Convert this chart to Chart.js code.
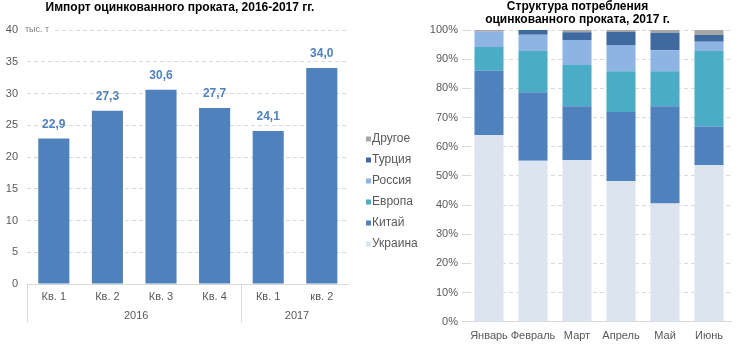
<!DOCTYPE html>
<html>
<head>
<meta charset="utf-8">
<script src="https://cdn.jsdelivr.net/npm/chart.js@4/dist/chart.umd.min.js"></script>
<style>
  body { margin: 0; background: #fff; }
  #wrapLeft { position: absolute; left: 0; top: 0; width: 350px; height: 345px; }
  #wrapRight { position: absolute; left: 350px; top: 0; width: 386px; height: 345px; }
</style>
</head>
<body>
<div id="wrapLeft"><canvas id="importChart" width="350" height="345"></canvas></div>
<div id="wrapRight"><canvas id="structChart" width="386" height="345"></canvas></div>
<script>
// Импорт оцинкованного проката, тыс. т
const quarters = ["Кв. 1", "Кв. 2", "Кв. 3", "Кв. 4", "Кв. 1", "кв. 2"];
const years = ["2016", "2017"];
const yearSizes = [4, 2];
const importValues = [22.9, 27.3, 30.6, 27.7, 24.1, 34.0];

// Структура потребления, %
const months = ["Январь", "Февраль", "Март", "Апрель", "Май", "Июнь"];
const ukraine = [64.0, 55.2, 55.4, 48.2, 40.5, 53.7];
const china   = [22.0, 23.5, 18.5, 23.7, 33.4, 13.2];
const europe  = [8.2, 14.1, 14.1, 14.0, 12.0, 25.9];
const russia  = [5.2, 5.6, 8.6, 9.0, 7.2, 3.2];
const turkey  = [0.0, 1.6, 2.6, 4.4, 6.0, 2.3];
const other   = [0.6, 0.0, 0.8, 0.7, 0.9, 1.7];

const FONT = "'Liberation Sans', Arial, sans-serif";
const TICK = "#595959";
const GRID = "#d9d9d9";

Chart.defaults.font.family = FONT;
Chart.defaults.animation = false;

// подписи и заголовок для левой диаграммы
const importDecor = {
    id: "importDecor",
    afterDraw(chart) {
        const ctx = chart.ctx;
        const area = chart.chartArea;
        const x = chart.scales.x;
        const y = chart.scales.y;
        ctx.save();

        // заголовок
        ctx.fillStyle = "#000";
        ctx.font = "bold 12px " + FONT;
        ctx.textAlign = "center";
        ctx.textBaseline = "middle";
        ctx.fillText("Импорт оцинкованного проката, 2016-2017 гг.", 180, 8);

        // единицы
        const yTop = y.getPixelForValue(40);
        ctx.font = "9px " + FONT;
        ctx.fillStyle = "#fff";
        ctx.fillRect(area.left - 3, yTop - 5, 30, 10);
        ctx.fillStyle = "#7f7f7f";
        ctx.textAlign = "left";
        ctx.fillText("тыс. т", area.left - 2, yTop);

        // значения над столбцами
        const meta = chart.getDatasetMeta(0);
        ctx.fillStyle = "#4f81bd";
        ctx.font = "bold 12px " + FONT;
        ctx.textAlign = "center";
        meta.data.forEach((bar, i) => {
            const txt = importValues[i].toFixed(1).replace(".", ",");
            ctx.fillText(txt, bar.x, bar.y - 14);
        });

        // группы по годам
        ctx.strokeStyle = GRID;
        ctx.lineWidth = 1;
        let start = 0;
        let left = area.left;
        const lineBottom = 322;
        ctx.beginPath();
        ctx.moveTo(Math.round(left) + 0.5, area.bottom);
        ctx.lineTo(Math.round(left) + 0.5, lineBottom);
        ctx.stroke();
        ctx.font = "11px " + FONT;
        ctx.fillStyle = TICK;
        years.forEach((yr, g) => {
            const end = start + yearSizes[g] - 1;
            let right;
            if (end + 1 < quarters.length) {
                right = (x.getPixelForValue(end) + x.getPixelForValue(end + 1)) / 2;
                ctx.beginPath();
                ctx.moveTo(Math.round(right) + 0.5, area.bottom);
                ctx.lineTo(Math.round(right) + 0.5, lineBottom);
                ctx.stroke();
            } else {
                right = area.right;
            }
            ctx.fillText(yr, (left + right) / 2 + 2, 316);
            left = right;
            start = end + 1;
        });
        ctx.restore();
    }
};

new Chart(document.getElementById("importChart"), {
    type: "bar",
    data: {
        labels: quarters,
        datasets: [{
            data: importValues,
            backgroundColor: "#4f81bd",
            categoryPercentage: 1,
            barPercentage: 0.58
        }]
    },
    options: {
        responsive: false,
        layout: { padding: { left: 0, right: 1.4, top: 30, bottom: 0 } },
        plugins: { legend: { display: false }, tooltip: { enabled: false } },
        scales: {
            x: {
                grid: { display: false, drawTicks: false },
                border: { display: true, color: GRID },
                ticks: { color: TICK, font: { size: 11 }, padding: 6 },
                afterFit(s) { s.height = 61; }
            },
            y: {
                min: 0,
                max: 40,
                ticks: { stepSize: 5, color: TICK, font: { size: 11 }, padding: 9 },
                grid: { color: GRID, drawTicks: false },
                border: { display: false, dash: [4, 3] },
                afterFit(s) { s.width = 27; }
            }
        }
    },
    plugins: [importDecor]
});

// заголовок и легенда для правой диаграммы
const structDecor = {
    id: "structDecor",
    afterDraw(chart) {
        const ctx = chart.ctx;
        ctx.save();
        ctx.fillStyle = "#000";
        ctx.font = "bold 12px " + FONT;
        ctx.textAlign = "center";
        ctx.textBaseline = "middle";
        ctx.fillText("Структура потребления", 227.5, 7);
        ctx.fillText("оцинкованного проката, 2017 г.", 227.5, 19.5);

        ctx.font = "12px " + FONT;
        ctx.textAlign = "left";
        const sets = chart.data.datasets.slice().reverse();
        sets.forEach((ds, i) => {
            const cy = 139 + i * 21;
            ctx.fillStyle = ds.backgroundColor;
            ctx.fillRect(16, cy - 2.5, 5, 5);
            ctx.fillStyle = TICK;
            ctx.fillText(ds.label, 22, cy);
        });
        ctx.restore();
    }
};

function series(label, data, color) {
    return { label: label, data: data, backgroundColor: color, categoryPercentage: 1, barPercentage: 0.66 };
}

new Chart(document.getElementById("structChart"), {
    type: "bar",
    data: {
        labels: months,
        datasets: [
            series("Украина", ukraine, "#dce4f0"),
            series("Китай", china, "#4f81bd"),
            series("Европа", europe, "#4bacc6"),
            series("Россия", russia, "#8eb4e3"),
            series("Турция", turkey, "#3e6aa0"),
            series("Другое", other, "#a6a6a6")
        ]
    },
    options: {
        responsive: false,
        layout: { padding: { left: 72, right: 5, top: 30, bottom: 0 } },
        plugins: { legend: { display: false }, tooltip: { enabled: false } },
        scales: {
            x: {
                stacked: true,
                grid: { display: false, drawTicks: false },
                border: { display: true, color: GRID },
                ticks: { color: TICK, font: { size: 11 }, padding: 8, autoSkip: false, maxRotation: 0 },
                afterFit(s) { s.height = 23.3; }
            },
            y: {
                stacked: true,
                min: 0,
                max: 100,
                ticks: { stepSize: 10, color: TICK, font: { size: 11 }, padding: 4, callback: v => v + "%" },
                grid: { color: GRID, drawTicks: true, tickLength: 5 },
                border: { display: false, dash: [4, 3] },
                afterFit(s) { s.width = 45; }
            }
        }
    },
    plugins: [structDecor]
});
</script>
</body>
</html>
